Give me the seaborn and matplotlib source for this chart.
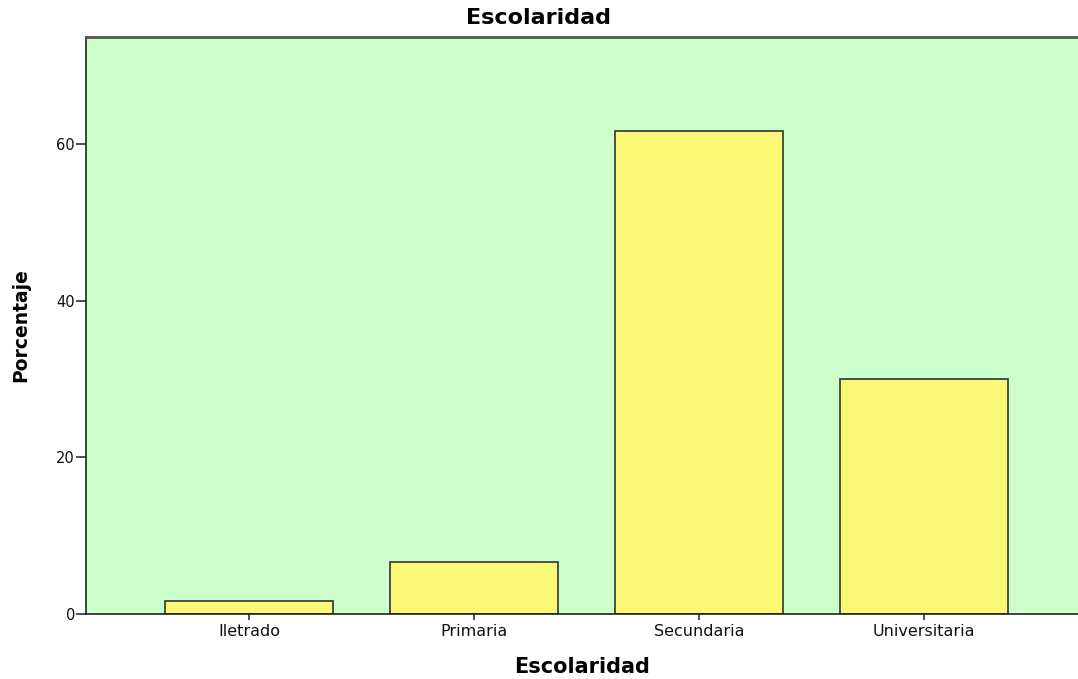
import matplotlib
matplotlib.use("Agg")
import matplotlib.pyplot as plt
import seaborn as sns
import pandas as pd

categories = ["Iletrado", "Primaria", "Secundaria", "Universitaria"]
percentages = [1.67, 6.67, 61.67, 30.0]
y_ticks = [0, 20, 40, 60]

sns.set_style("white")
plt.rcParams['font.family'] = ['DejaVu Sans']

df = pd.DataFrame({"Escolaridad": categories, "Porcentaje": percentages})

W, H = 1078, 679
fig = plt.figure(figsize=(W / 100, H / 100), dpi=100)
ax_left, ax_bottom, ax_top = 86, 614, 37
ax = fig.add_axes([ax_left / W, (H - ax_bottom) / H, 1 - ax_left / W, (ax_bottom - ax_top) / H])
ax.set_facecolor("#CCFFCC")

sns.barplot(data=df, x="Escolaridad", y="Porcentaje", ax=ax, color="#FAF875",
            width=0.75, edgecolor="#333333", linewidth=1.2, saturation=1)

ax.set_ylim(0, 73.7)
ax.set_xlim(-0.724, 3.684)
ax.set_yticks(y_ticks)
ax.set_yticklabels([str(t) for t in y_ticks])
ax.tick_params(axis="y", direction="out", length=7, width=1.2, color="#333333",
               labelsize=10.5, labelcolor="#111111", left=True, pad=1)
ax.tick_params(axis="x", direction="out", length=4.5, width=1.2, color="#333333",
               labelsize=11.5, labelcolor="#111111", bottom=True, pad=2.5)

for s in ["left", "bottom"]:
    ax.spines[s].set_color("#222222")
    ax.spines[s].set_linewidth(1.2)
ax.spines["top"].set_color("#555555")
ax.spines["top"].set_linewidth(2)
ax.spines["right"].set_visible(False)

ax.set_xlabel("Escolaridad", fontsize=15, fontweight="bold", color="black")
ax.xaxis.label.set_va("center")
ax.xaxis.set_label_coords(0.5, -(667 - ax_bottom) / (ax_bottom - ax_top))

ax.set_ylabel("Porcentaje", fontsize=13.5, fontweight="bold", color="black")
ax.yaxis.label.set_va("center")
ax.yaxis.set_label_coords(-(ax_left - 21) / (W - ax_left), 0.5)

fig.text(0.5, 1 - 18 / H, "Escolaridad", ha="center", va="center",
         fontsize=16, fontweight="bold", color="black")

fig.savefig("out.png", dpi=100)
